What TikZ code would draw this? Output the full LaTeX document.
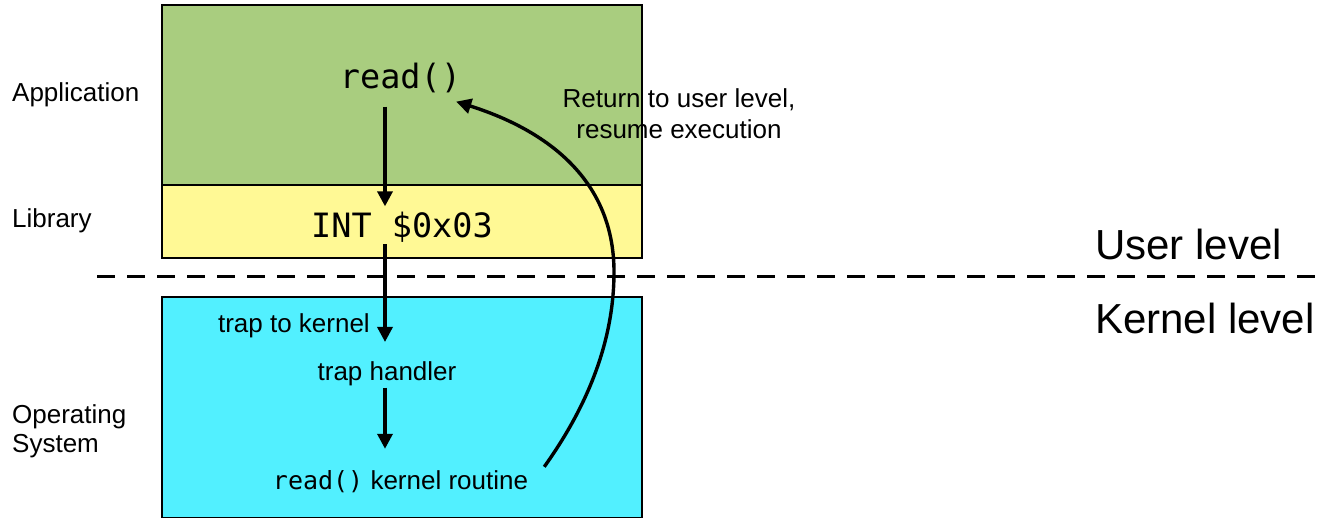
\documentclass[tikz,border=0pt]{standalone}
\usepackage{fontspec}
\setmainfont{Liberation Sans}
\setmonofont{DejaVu Sans Mono}
\usetikzlibrary{arrows.meta}

\definecolor{appgreen}{HTML}{A9CD7F}
\definecolor{libyellow}{HTML}{FFF995}
\definecolor{oscyan}{HTML}{52F0FF}

\tikzset{
  layerbox/.style={draw=black, line width=1.6pt, minimum width=480pt, inner sep=0pt},
  sidelabel/.style={anchor=base west, inner sep=0pt, font=\fontsize{26}{29}\selectfont, align=left},
  steplabel/.style={anchor=base, inner sep=0pt, font=\fontsize{26}{30}\selectfont},
  codelabel/.style={anchor=base, inner sep=0pt, font=\ttfamily\fontsize{33.5}{38}\selectfont},
  levellabel/.style={anchor=base west, inner sep=0pt, font=\fontsize{42}{48}\selectfont},
  flow/.style={line width=3.4pt, -{Triangle[length=15pt,width=15pt]}},
}

\begin{document}
\begin{tikzpicture}[x=1pt, y=-1pt]
  \useasboundingbox (0,0) rectangle (1322,517);
  \clip (0,0) rectangle (1322,517);

  % layer boxes (the OS box runs off the lower edge)
  \node[layerbox, fill=appgreen, minimum height=180pt] (appbox) at (402,95) {};
  \node[layerbox, fill=libyellow, minimum height=73pt] (libbox) at (402,221.5) {};
  \node[layerbox, fill=oscyan, minimum height=220.5pt] (osbox) at (402,407.25) {};

  % user / kernel boundary
  \coordinate (bl) at (97,276);
  \coordinate (br) at (1318,276);
  \draw[line width=3pt, dash pattern=on 18pt off 12pt] (bl) -- (br);

  % layer names
  \node[sidelabel] (lapp) at (12,101) {Application};
  \node[sidelabel] (llib) at (12,227) {Library};
  \node[sidelabel] (los1) at (12,423) {Operating};
  \node[sidelabel] (los2) at (12,452) {System};

  \node[levellabel] (luser) at (1095,259) {User level};
  \node[levellabel] (lkern) at (1095,333) {Kernel level};

  % call path
  \node[codelabel] (read) at (400.5,88) {read()};
  \node[codelabel] (int) at (402,237) {INT \$0x03};
  \node[steplabel, anchor=base east] (trapk) at (370,332) {trap to kernel};
  \node[steplabel] (th) at (387,380) {trap handler};
  \node[steplabel] (rkr) at (400.5,489)
    {{\ttfamily\fontsize{25}{28}\selectfont read()} kernel routine};

  \node[anchor=base, inner sep=0pt, font=\fontsize{26}{31}\selectfont, align=center]
    (ret) at (679,138) {Return to user level,\\resume execution};

  \coordinate (ax) at (385,0);
  \draw[flow, shorten <=14pt, shorten >=5pt] (read.south -| ax) -- (int.north -| ax);
  \draw[flow, shorten <=2pt, shorten >=19pt] (int.south -| ax) -- (th.north -| ax);
  \draw[flow, shorten <=2pt, shorten >=21pt] (th.south -| ax) -- (rkr.north -| ax);

  % return path
  \draw[flow]
    ([shift={(16,-3)}]rkr.north east)
      .. controls (592,400) and (614,335) .. (614,272)
      .. controls (614,175) and (540,128) .. ([shift={(-5,9)}]read.south east);
\end{tikzpicture}
\end{document}
